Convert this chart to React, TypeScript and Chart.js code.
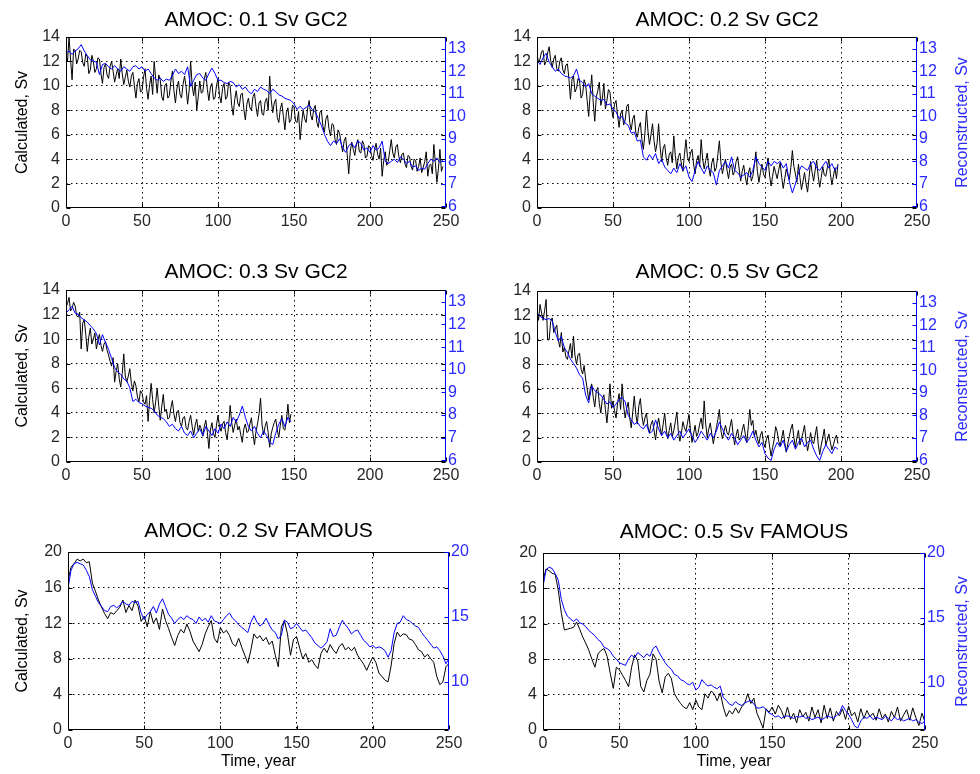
import React, { useEffect, useRef } from "react";
import { Chart, registerables } from "chart.js";

Chart.register(...registerables);

// ---------------- data ----------------
const ANNUAL = 1; // years between samples (annual series)
const BIENNIAL = 2; // years between samples (2-yearly series)

const X_TICKS = [0, 50, 100, 150, 200, 250];
const GC2_LEFT_TICKS = [0, 2, 4, 6, 8, 10, 12, 14];
const GC2_RIGHT_TICKS = [6, 7, 8, 9, 10, 11, 12, 13];
const FAMOUS_LEFT_TICKS = [0, 4, 8, 12, 16, 20];
const FAMOUS_RIGHT_TICKS = [10, 15, 20];

const TITLES = [
  "AMOC: 0.1 Sv GC2",
  "AMOC: 0.2 Sv GC2",
  "AMOC: 0.3 Sv GC2",
  "AMOC: 0.5 Sv GC2",
  "AMOC: 0.2 Sv FAMOUS",
  "AMOC: 0.5 Sv FAMOUS",
];

// annual, years 0..248
const calc01 = [
  12.5, 12.0, 14.0, 12.2, 10.5, 13.0, 12.9, 11.8, 12.2, 12.9,
  12.8, 11.9, 11.6, 12.6, 12.4, 11.0, 11.3, 12.5, 12.0, 11.1,
  11.4, 12.3, 12.2, 11.0, 10.2, 11.5, 11.8, 10.9, 10.6, 11.6,
  12.0, 11.2, 10.3, 10.9, 11.4, 10.6, 12.2, 11.0, 10.1, 10.7,
  11.3, 10.4, 9.9, 10.8, 11.1, 10.0, 9.0, 10.2, 10.6, 9.5,
  9.6, 10.7, 11.4, 9.8, 8.9, 10.1, 10.8, 9.3, 12.0, 10.6,
  9.4, 10.9, 10.5, 9.1, 8.8, 10.0, 10.2, 9.0, 9.2, 10.4,
  11.2, 9.6, 8.6, 9.8, 10.4, 9.3, 9.0, 10.1, 10.8, 9.9,
  8.5, 9.6, 12.0, 10.0, 9.2, 10.3, 8.0, 9.1, 10.4, 9.4,
  9.5, 10.6, 11.1, 9.7, 8.8, 9.9, 10.2, 8.9, 9.0, 10.0,
  10.6, 9.2, 8.6, 9.8, 10.2, 8.9, 9.1, 10.3, 10.0, 8.4,
  7.6, 8.9, 9.6, 8.6, 8.3, 9.3, 9.4, 8.1, 7.2, 8.5,
  9.0, 8.2, 8.0, 9.1, 9.4, 8.3, 7.5, 8.6, 8.8, 7.7,
  7.6, 8.7, 9.0, 8.0, 10.8, 8.9, 7.8, 8.6, 8.9, 7.4,
  7.0, 8.1, 8.6, 7.5, 6.4, 7.8, 8.2, 7.0, 7.2, 8.4,
  8.3, 7.1, 7.0, 7.9, 5.6, 6.9, 8.0, 7.3, 7.0, 8.2,
  8.8, 7.6, 7.2, 8.1, 8.4, 7.0, 6.6, 7.8, 8.0, 6.7,
  6.2, 7.3, 7.6, 6.5, 5.9, 6.9, 6.8, 5.6, 5.2, 6.4,
  6.1, 5.3, 4.6, 5.5, 5.8, 4.4, 2.8, 4.6, 5.4, 4.8,
  4.3, 5.2, 5.6, 4.6, 4.5, 5.5, 5.2, 4.1, 4.2, 5.1,
  5.0, 4.3, 3.9, 4.8, 5.3, 4.4, 4.0, 4.9, 2.6, 3.9,
  4.6, 3.5, 3.8, 4.7, 5.6, 4.5, 4.1, 5.0, 5.2, 4.2,
  3.7, 4.4, 4.5, 3.6, 3.3, 4.3, 4.2, 3.4, 3.1, 4.0,
  3.9, 3.0, 3.4, 4.1, 2.9, 3.3, 3.8, 4.6, 2.6, 3.5,
  3.6, 2.8, 5.2, 3.7, 2.1, 3.2, 4.8, 3.0, 3.4,
];
// 2-yearly, years 0..248
const recon01 = [
  12.8, 12.9, 12.75, 12.9, 13.0, 13.18, 12.9, 12.7, 12.5, 12.45, 12.4,
  11.85, 12.3, 12.35, 12.2, 12.1, 12.25, 12.1, 12.0, 12.2, 12.1,
  12.0, 12.2, 12.25, 12.1, 12.2, 12.0, 12.1, 11.9, 11.7, 11.6,
  11.7, 11.55, 11.65, 11.6, 11.8, 12.1, 11.9, 12.0, 11.85, 12.2,
  11.33, 11.6, 11.85, 11.9, 11.7, 11.6, 11.9, 12.14, 11.9, 11.6,
  11.6, 11.5, 11.45, 11.55, 11.5, 11.3, 11.4, 11.2, 11.3, 11.1,
  11.0, 11.2, 11.1, 11.3, 11.2, 11.15, 11.0, 11.2, 11.1, 10.95,
  10.9, 10.8, 10.75, 10.7, 10.55, 10.3, 10.45, 10.3, 10.4, 10.5,
  10.3, 10.2, 9.9, 9.6, 9.2, 8.9, 8.7, 8.9, 8.8, 9.0,
  8.6, 8.4, 8.7, 8.8, 8.6, 8.9, 8.8, 8.5, 8.6, 8.4,
  8.7, 8.5, 8.6, 8.9, 8.0, 7.9, 8.0, 8.1, 7.95, 8.2,
  8.1, 7.9, 8.0, 7.75, 7.8, 7.6, 7.7, 7.65, 7.9, 8.1,
  8.0, 8.15, 7.95, 8.05,
];

// annual, years 0..198
const calc02 = [
  12.6, 11.9, 12.2, 12.8, 12.9, 11.7, 12.0, 12.7, 13.2, 12.1,
  11.5, 12.2, 12.5, 11.4, 11.2, 12.0, 12.3, 11.3, 11.0, 11.7,
  11.8, 10.6, 8.9, 10.5, 10.8, 9.5, 9.8, 10.6, 10.4, 9.0,
  9.3, 10.5, 10.1, 8.8, 7.5, 9.4, 10.9, 8.6, 7.1, 9.1,
  9.6, 10.3, 8.4, 9.0, 10.2, 8.1, 8.8, 9.7, 9.5, 8.2,
  7.4, 8.5, 8.8, 7.6, 6.6, 7.7, 8.0, 6.8, 7.2, 8.3,
  8.5, 7.0, 6.4, 7.3, 7.6, 6.2, 5.8, 6.6, 7.0, 5.6,
  4.8, 6.1, 8.0, 6.3, 5.2, 6.0, 6.9, 5.5, 4.6, 5.3,
  6.9, 5.0, 3.8, 4.9, 5.2, 4.1, 3.5, 4.4, 4.6, 3.7,
  5.9, 4.3, 3.2, 4.2, 4.5, 3.6, 3.0, 4.4, 5.6, 4.2,
  3.8, 4.5, 4.8, 3.6, 2.8, 3.9, 4.3, 3.4, 5.6, 4.0,
  3.2, 3.9, 4.5, 3.3, 2.6, 3.7, 4.1, 3.0, 3.3, 4.4,
  5.5, 3.7, 2.8, 3.5, 4.0, 3.1, 2.4, 3.3, 3.6, 2.7,
  3.0, 3.8, 4.2, 3.2, 2.2, 3.0, 3.5, 2.6, 1.9, 2.8,
  3.3, 2.2, 2.6, 3.5, 4.6, 3.0, 2.1, 2.9, 3.6, 2.8,
  2.5, 3.3, 4.1, 2.7, 1.8, 2.6, 3.4, 2.9, 2.4, 3.1,
  3.7, 2.5, 1.6, 2.4, 3.2, 2.7, 2.3, 3.3, 4.7, 3.4,
  2.8, 2.1, 3.6, 2.5, 1.5, 2.2, 2.9, 2.0, 1.3, 2.5,
  3.8, 2.9, 2.2, 3.1, 3.9, 2.6, 1.7, 2.5, 3.4, 2.7,
  2.6, 3.3, 4.0, 2.8, 1.9, 2.6, 3.3, 2.4, 3.6,
];
// 2-yearly, years 0..198
const recon02 = [
  12.5, 12.3, 12.6, 12.8, 12.4, 12.2, 12.0, 12.1, 11.9, 11.8,
  11.75, 11.7, 11.8, 12.1, 11.6, 11.5, 11.3, 11.45, 11.0, 10.9,
  10.8, 10.7, 10.75, 10.5, 10.55, 10.3, 10.2, 9.9, 10.0, 9.7,
  9.6, 9.25, 9.3, 8.9, 8.95, 8.2, 8.05, 8.3, 8.1, 8.35,
  7.9, 8.1, 7.75, 7.6, 7.45, 7.7, 7.5, 7.9, 7.6, 7.8,
  7.3, 7.1, 7.6, 8.0, 7.7, 7.45, 7.8, 7.6, 7.5, 6.95,
  7.6, 7.8, 8.0, 7.7, 8.2, 7.6, 7.5, 7.3, 7.4, 7.5,
  7.3, 7.6, 8.2, 7.9, 7.75, 7.6, 8.0, 7.8, 8.0, 7.9,
  8.0, 7.7, 7.9, 7.1, 6.6, 7.0, 7.5, 7.8, 7.7, 7.6,
  7.9, 8.0, 7.7, 7.6, 7.8, 8.0, 7.7, 7.9, 7.6, 7.8,
];

// annual, years 0..148
const calc03 = [
  12.6, 12.9, 13.4, 12.3, 12.5, 13.0, 12.7, 11.9, 11.8, 12.2,
  9.2, 11.3, 11.6, 10.4, 9.0, 10.2, 10.9, 9.6, 10.0, 10.5,
  9.2, 9.9, 10.4, 9.5, 9.0, 9.6, 9.8, 9.1, 8.7, 8.2,
  7.8, 8.5, 6.5, 7.4, 8.0, 6.8, 6.1, 7.2, 8.8, 7.0,
  6.5, 7.0, 7.6, 6.4, 5.8, 6.6, 6.2, 5.3, 4.9, 5.8,
  5.6, 4.9, 4.7, 5.4, 3.3, 5.0, 6.4, 5.1, 4.0, 4.9,
  6.0, 4.6, 3.4, 4.5, 5.5, 4.1, 4.3, 3.5, 3.6, 4.4,
  5.0, 3.9, 3.3, 4.1, 4.2, 3.2, 2.9, 3.6, 3.7, 2.8,
  2.6, 3.3, 3.8, 2.9, 2.2, 3.0, 3.5, 2.5, 3.0, 2.7,
  2.1, 2.9, 3.4, 2.4, 1.1, 2.6, 3.2, 2.3, 2.0, 3.0,
  3.8, 2.9, 2.5, 3.1, 3.3, 2.4, 1.8, 3.0, 4.6, 3.2,
  2.4, 3.0, 3.5, 2.6, 2.9, 2.2, 1.6, 2.7, 3.1, 2.4,
  2.5, 3.1, 3.6, 2.3, 1.4, 2.5, 3.1, 3.9, 5.2, 3.0,
  2.2, 2.9, 3.3, 2.4, 1.2, 2.3, 2.8, 3.2, 3.5, 2.6,
  2.0, 3.0, 3.8, 2.7, 2.6, 3.4, 4.7, 3.2, 3.9,
];
// 2-yearly, years 0..148
const recon03 = [
  12.5, 12.65, 12.8, 12.5, 12.45, 12.3, 12.2, 12.1, 11.95, 11.8,
  11.6, 11.1, 11.55, 11.2, 10.9, 10.5, 10.1, 9.9, 9.8, 9.6,
  9.5, 9.2, 8.6, 8.7, 8.55, 8.5, 8.4, 8.35, 8.3, 8.2,
  8.0, 7.9, 7.85, 7.7, 7.5, 7.6, 7.4, 7.3, 7.5, 7.2,
  7.1, 7.3, 7.0, 7.2, 7.4, 7.1, 7.5, 7.3, 7.1, 7.4,
  7.2, 7.6, 7.4, 7.7, 7.5, 7.9, 7.7, 8.0, 8.4, 7.9,
  7.5, 7.3, 7.5, 7.2, 7.0, 7.3, 7.1, 6.8, 6.7, 7.2,
  7.6, 7.85, 7.5, 7.9, 7.7,
];

// annual, years 0..198
const calc05 = [
  12.5, 11.6, 12.9, 12.2, 11.6, 12.4, 13.3, 10.0, 10.0, 11.5,
  11.8, 10.6, 10.9, 11.2, 10.0, 9.4, 10.6, 9.0, 9.4, 8.6,
  8.4, 9.1, 9.7, 8.5, 10.3, 8.7, 8.0, 8.8, 8.9, 7.6,
  7.2, 7.9, 6.8, 6.0, 5.1, 6.0, 6.4, 5.3, 4.5, 5.8,
  6.1, 4.8, 4.0, 5.2, 5.5, 4.3, 3.2, 4.6, 6.4, 4.4,
  5.0, 4.2, 3.6, 4.8, 5.6, 4.3, 6.4, 4.6, 3.6, 4.4,
  4.9, 3.6, 2.8, 4.1, 5.4, 3.9, 3.1, 4.6, 5.2, 3.8,
  3.0, 3.6, 4.0, 2.9, 2.4, 3.1, 3.4, 2.6, 1.8, 2.9,
  3.6, 2.8, 2.2, 3.1, 4.0, 2.7, 1.9, 2.6, 3.2, 2.1,
  2.6, 3.3, 4.1, 2.5, 1.7, 2.4, 3.3, 2.8, 2.5, 3.2,
  3.9, 2.6, 1.6, 2.3, 3.0, 2.1, 2.4, 3.1, 3.6, 2.7,
  5.0, 3.1, 2.0, 2.7, 3.2, 2.3, 1.5, 2.2, 2.8, 3.5,
  4.3, 2.6, 1.9, 2.5, 3.0, 2.4, 2.2, 2.9, 3.5, 2.3,
  1.4, 2.2, 2.7, 1.8, 2.0, 2.6, 3.1, 2.3, 1.6, 2.9,
  4.3, 3.0, 3.4, 2.1, 2.6, 1.9, 1.5, 2.2, 2.5, 1.6,
  1.2, 1.9, 2.2, 1.3, 0.5, 1.2, 1.8, 2.9, 2.5, 1.7,
  1.3, 2.0, 2.6, 1.6, 0.8, 1.5, 2.1, 2.7, 3.1, 2.0,
  1.2, 2.0, 2.6, 1.4, 1.9, 2.4, 3.0, 1.8, 0.9, 1.6,
  2.4, 1.7, 1.5, 2.2, 2.9, 1.5, 0.6, 1.4, 2.0, 2.7,
  1.4, 1.8, 2.3, 1.6, 1.0, 1.4, 1.9, 2.2, 1.5,
];
// 2-yearly, years 0..198
const recon05 = [
  12.55, 12.4, 12.3, 12.25, 12.3, 12.2, 11.7, 11.3, 11.5, 11.0,
  10.8, 10.5, 10.3, 10.1, 9.8, 9.65, 8.9, 8.55, 9.3, 9.1,
  9.0, 8.9, 8.7, 8.5, 8.6, 8.35, 8.5, 8.7, 8.8, 8.6,
  8.0, 7.8, 7.6, 7.7, 7.5, 7.4, 7.6, 7.2, 7.3, 7.8,
  7.4, 7.1, 7.3, 7.0, 7.2, 6.9, 7.1, 7.3, 7.0, 7.2,
  7.4, 7.1, 6.8, 7.0, 7.3, 7.1, 6.9, 7.2, 7.0, 7.3,
  7.7, 7.4, 7.1, 6.9, 7.2, 7.0, 6.7, 6.9, 7.1, 6.8,
  7.0, 7.3, 6.9, 6.6, 6.8, 6.3, 6.1, 6.0, 6.5, 6.8,
  6.6, 6.9, 6.4, 6.7, 6.9, 6.5, 6.8, 7.0, 6.6, 6.8,
  6.9, 6.5, 6.2, 6.0, 6.4, 6.7, 6.5, 6.3, 6.6, 6.5,
];

// 2-yearly, years 0..250
const calcF02 = [
  16.8, 18.3, 18.7, 19.2, 19.0, 19.2, 18.8, 18.9, 16.5, 15.6,
  14.6, 13.8, 13.1, 12.5, 13.2, 13.0, 13.4, 13.8, 14.6, 13.2,
  14.0, 13.4, 14.6, 13.9, 12.2, 12.8, 11.6, 13.3, 12.0, 12.6,
  11.3, 13.6, 12.3, 11.4, 10.4, 9.5, 10.6, 11.3, 10.9, 11.9,
  11.1, 10.0, 9.4, 8.8, 9.6, 10.8, 11.6, 12.3, 10.3, 9.8,
  11.5, 10.9, 11.2, 10.6, 9.7, 9.4, 10.3, 9.3, 8.4, 7.5,
  9.0, 10.8, 10.3, 10.6, 10.0, 10.4, 9.6, 10.0, 8.4, 7.1,
  11.6, 12.3, 10.8, 8.4, 10.2, 10.5, 9.2, 8.0, 8.6, 7.6,
  7.9, 7.3, 6.9, 8.6, 9.2, 8.7, 9.6, 9.0, 8.6, 9.4,
  9.7, 9.0, 9.3, 8.9, 9.3, 8.4, 7.9, 7.4, 6.7, 7.5,
  8.2, 7.6, 6.4, 6.0, 5.6, 5.4, 7.2, 9.7, 11.0, 10.5,
  10.8, 10.7, 10.2, 10.1, 9.6, 9.0, 8.8, 8.2, 8.5, 8.0,
  7.6, 6.0, 5.1, 5.4, 7.1, 7.5,
];
const reconF02 = [
  17.2, 18.6, 19.1, 19.2, 19.1, 19.0, 18.6, 18.1, 17.1, 16.6,
  16.1, 15.8, 15.5, 15.4, 15.8, 15.9, 15.7, 15.9, 16.2, 16.0,
  15.9, 16.2, 16.1, 16.2, 15.3, 14.8, 15.2, 15.4, 15.8, 15.3,
  16.0, 16.4, 15.8, 15.2, 14.9, 14.5, 14.8, 15.0, 14.8, 15.1,
  14.9, 14.8, 14.5, 15.0, 14.7, 14.9, 14.6, 15.1, 14.7, 14.6,
  14.5, 14.8, 15.1, 15.3, 14.9, 14.7, 14.4, 14.2, 14.0, 13.8,
  14.6, 15.1, 14.6, 14.3, 14.5, 14.9, 14.4, 14.0, 13.8, 13.3,
  13.6, 14.75, 14.6, 14.1, 14.2, 14.5, 14.2, 13.9, 14.0, 13.7,
  13.4, 13.0, 12.8, 12.6, 12.8, 13.1, 14.1, 13.5, 13.6, 14.2,
  14.75, 14.4, 14.1, 13.7, 13.9, 14.0, 13.6, 13.2, 13.0, 12.7,
  12.8, 12.6, 12.7, 12.6, 12.4, 11.9, 12.4, 13.8, 14.5, 14.6,
  15.1, 14.8, 14.7, 14.5, 14.3, 14.2, 13.8, 13.5, 13.2, 12.9,
  12.6, 12.7, 12.4, 12.0, 11.4, 11.8,
];

// 2-yearly, years 0..250
const calcF05 = [
  16.9, 18.2, 18.0, 17.7, 17.6, 15.8, 13.2, 11.3, 11.4, 11.5,
  11.6, 12.2, 11.4, 10.5, 9.8, 9.0, 8.0, 7.1, 8.6, 9.0,
  9.2, 8.3, 6.4, 4.7, 7.1, 6.8, 6.2, 5.6, 4.9, 7.1,
  8.5, 7.8, 4.9, 4.3, 5.6, 6.3, 8.6, 8.0, 5.5, 4.2,
  6.0, 6.4, 5.8, 4.1, 3.5, 3.0, 2.6, 2.4, 3.1, 2.3,
  3.4, 2.6, 2.3, 4.1, 3.6, 4.4, 4.1, 3.3, 4.2, 2.6,
  1.5, 2.2, 1.8, 2.5, 1.9, 2.6, 3.0, 4.1, 3.0, 3.6,
  1.9, 1.1, 0.2, 2.4, 2.0, 2.6, 1.8, 2.8, 2.2, 1.3,
  2.6, 1.2, 1.9, 0.8, 2.3, 1.5, 2.0, 1.0, 2.6, 1.4,
  2.3, 0.8, 2.8, 1.3, 2.5, 1.0, 2.1, 1.6, 2.4, 1.2,
  2.7, 1.6, 2.0, 0.9, 2.4, 1.3, 2.2, 1.5, 1.9, 1.1,
  2.4, 1.3, 1.8, 0.9, 2.1, 1.4, 2.6, 1.0, 1.7, 2.3,
  1.1, 2.5, 1.4, 0.5, 1.9, 0.9,
];
const reconF05 = [
  17.4, 18.7, 18.9, 18.8, 18.4, 17.9, 16.4, 15.6, 15.1, 14.9,
  14.7, 14.9, 14.6, 14.5, 14.3, 14.0, 13.8, 13.6, 13.3, 13.1,
  12.7, 12.6, 12.4, 12.0, 11.8, 11.5, 11.4, 11.3, 11.8, 12.1,
  11.9, 12.3, 12.1, 11.9, 12.2, 12.0, 12.6, 12.8, 12.3, 11.9,
  11.5, 11.2, 11.0, 10.6, 10.5, 10.2, 10.1, 9.9, 9.8, 10.0,
  9.4, 9.6, 10.2, 9.9, 9.7, 9.8, 9.6, 9.5, 9.7, 8.8,
  8.6, 8.3, 8.2, 8.5, 8.3, 8.2, 8.4, 8.5, 8.6, 8.3,
  8.0, 8.0, 8.1, 7.9, 7.6, 7.5, 7.3, 7.4, 7.2, 7.35,
  7.4, 7.3, 7.2, 7.35, 7.3, 7.4, 7.2, 7.3, 7.1, 7.2,
  7.3, 7.1, 7.2, 7.4, 7.3, 7.2, 7.4, 7.6, 8.2, 7.8,
  7.5, 7.1, 6.6, 6.45, 7.0, 7.3, 7.2, 7.4, 7.1, 7.3,
  7.2, 7.1, 7.35, 7.2, 7.0, 7.3, 7.1, 7.2, 7.0, 7.1,
  7.2, 7.0, 7.1, 6.9, 6.8, 7.0,
];

// ---------------- panel definitions ----------------
type Spec = {
  title: string;
  calc: number[];
  calcStep: number;
  recon: number[];
  reconStep: number;
  leftMax: number;
  leftTicks: number[];
  rightMin: number;
  rightMax: number;
  rightTicks: number[];
  leftLabel: boolean;
  rightLabel: boolean;
  xLabel: boolean;
};

const GC2_R_MIN = 5.93;
const GC2_R_MAX = 13.52;
const FAM_R_MIN = 6.3;
const FAM_R_MAX = 20;

const gc2 = { leftMax: 14, leftTicks: GC2_LEFT_TICKS, rightMin: GC2_R_MIN, rightMax: GC2_R_MAX, rightTicks: GC2_RIGHT_TICKS, calcStep: ANNUAL, reconStep: BIENNIAL, xLabel: false };
const famous = { leftMax: 20, leftTicks: FAMOUS_LEFT_TICKS, rightMin: FAM_R_MIN, rightMax: FAM_R_MAX, rightTicks: FAMOUS_RIGHT_TICKS, calcStep: BIENNIAL, reconStep: BIENNIAL, xLabel: true };

const PANELS: Spec[] = [
  { ...gc2, title: TITLES[0], calc: calc01, recon: recon01, leftLabel: true, rightLabel: false },
  { ...gc2, title: TITLES[1], calc: calc02, recon: recon02, leftLabel: false, rightLabel: true },
  { ...gc2, title: TITLES[2], calc: calc03, recon: recon03, leftLabel: true, rightLabel: false },
  { ...gc2, title: TITLES[3], calc: calc05, recon: recon05, leftLabel: false, rightLabel: true },
  { ...famous, title: TITLES[4], calc: calcF02, recon: reconF02, leftLabel: true, rightLabel: false },
  { ...famous, title: TITLES[5], calc: calcF05, recon: reconF05, leftLabel: false, rightLabel: true },
];

// ---------------- layout (page pixels) ----------------
const LAYOUT = [
  { canvas: { x: 0, y: 0, w: 490, h: 236 }, plot: { l: 66, t: 37, r: 446, b: 208 }, titleY: 20 },
  { canvas: { x: 490, y: 0, w: 490, h: 236 }, plot: { l: 537, t: 37, r: 917, b: 208 }, titleY: 20 },
  { canvas: { x: 0, y: 248, w: 490, h: 244 }, plot: { l: 66, t: 290, r: 446, b: 462 }, titleY: 272 },
  { canvas: { x: 490, y: 248, w: 490, h: 244 }, plot: { l: 537, t: 291, r: 917, b: 462 }, titleY: 272 },
  { canvas: { x: 0, y: 504, w: 490, h: 270 }, plot: { l: 68, t: 552, r: 449, b: 730 }, titleY: 531 },
  { canvas: { x: 490, y: 504, w: 490, h: 270 }, plot: { l: 543, t: 553, r: 925, b: 730 }, titleY: 532 },
];
const LEFT_LABEL_X = 23;
const RIGHT_LABEL_X = 963;
const X_LABEL_Y = 762;

const FONT = "'Liberation Sans', Arial, Helvetica, sans-serif";
const BLUE = "#0000ff";
const BLUE_TEXT = "#2a2aff";
const TICK_TEXT = "#262626";
const TITLE_SIZE = 21;
const LABEL_SIZE = 16;
const TICK_SIZE = 16;
const TICK_LEN = 4;

const toPoints = (arr: number[], step: number) => arr.map((v, i) => ({ x: i * step, y: v }));
const px = (v: number) => Math.round(v) + 0.5;

const framePlugin = {
  id: "matlabFrame",
  afterDatasetsDraw(chart: any, _args: any, opts: any) {
    const { ctx, chartArea: a, scales } = chart;
    const L = px(a.left), R = px(a.right - 1), T = px(a.top), B = px(a.bottom - 1);
    ctx.save();
    ctx.lineWidth = 1;
    ctx.setLineDash([]);
    ctx.strokeStyle = "#000";
    ctx.beginPath();
    for (const t of scales.x.ticks) {
      const x = px(scales.x.getPixelForValue(t.value));
      ctx.moveTo(x, B);
      ctx.lineTo(x, B - TICK_LEN);
      ctx.moveTo(x, T);
      ctx.lineTo(x, T + TICK_LEN);
    }
    for (const t of scales.y.ticks) {
      const y = px(scales.y.getPixelForValue(t.value));
      ctx.moveTo(L, y);
      ctx.lineTo(L + TICK_LEN, y);
      ctx.moveTo(R, y);
      ctx.lineTo(R - TICK_LEN, y);
    }
    ctx.moveTo(R, T);
    ctx.lineTo(L, T);
    ctx.lineTo(L, B);
    ctx.lineTo(R, B);
    ctx.stroke();

    ctx.strokeStyle = BLUE;
    ctx.beginPath();
    ctx.moveTo(R, T - 0.5);
    ctx.lineTo(R, B + 0.5);
    for (const t of scales.y2.ticks) {
      const y = px(scales.y2.getPixelForValue(t.value));
      ctx.moveTo(R, y);
      ctx.lineTo(R - TICK_LEN, y);
    }
    ctx.stroke();

    if (opts && opts.rightText) {
      ctx.fillStyle = BLUE_TEXT;
      ctx.font = `${LABEL_SIZE}px ${FONT}`;
      ctx.textAlign = "center";
      ctx.textBaseline = "middle";
      ctx.translate(opts.rightX, (a.top + a.bottom) / 2);
      ctx.rotate(-Math.PI / 2);
      ctx.fillText(opts.rightText, 0, 0);
    }
    ctx.restore();
  },
};

function Panel({ spec, lay }: { spec: Spec; lay: (typeof LAYOUT)[number] }) {
  const ref = useRef<HTMLCanvasElement>(null);
  const { canvas: c, plot: p } = lay;

  useEffect(() => {
    if (!ref.current) return;
    const titleLH = TITLE_SIZE * 1.2;
    const labelLH = LABEL_SIZE * 1.2;
    const leftW = p.l - c.x;
    const rightW = c.x + c.w - p.r;
    const bottomH = c.y + c.h - p.b;

    const gridColor = (ctx: any) => {
      const v = ctx.tick ? ctx.tick.value : 0;
      const s = ctx.scale;
      return v > s.min && v < s.max ? "#000" : "rgba(0,0,0,0)";
    };

    const chart = new Chart(ref.current, {
      type: "line",
      data: {
        datasets: [
          {
            label: "Reconstructed",
            data: toPoints(spec.recon, spec.reconStep),
            yAxisID: "y2",
            xAxisID: "x",
            borderColor: BLUE,
            borderWidth: 1,
            pointRadius: 0,
            tension: 0,
            fill: false,
          },
          {
            label: "Calculated",
            data: toPoints(spec.calc, spec.calcStep),
            yAxisID: "y",
            xAxisID: "x",
            borderColor: "#000",
            borderWidth: 1,
            pointRadius: 0,
            tension: 0,
            fill: false,
          },
        ],
      },
      options: {
        animation: false,
        responsive: false,
        maintainAspectRatio: false,
        events: [],
        layout: { padding: 0 },
        plugins: {
          legend: { display: false },
          tooltip: { enabled: false },
          title: {
            display: true,
            text: spec.title,
            fullSize: false,
            color: "#000",
            font: { family: FONT, size: TITLE_SIZE, weight: "normal", lineHeight: 1.2 },
            padding: {
              top: lay.titleY - c.y - titleLH / 2,
              bottom: p.t - lay.titleY - titleLH / 2,
            },
          },
          matlabFrame: {
            rightText: spec.rightLabel ? "Reconstructed, Sv" : null,
            rightX: RIGHT_LABEL_X - c.x,
          },
        } as any,
        scales: {
          x: {
            type: "linear",
            position: "bottom",
            min: 0,
            max: 250,
            afterBuildTicks: (s: any) => {
              s.ticks = X_TICKS.map((v) => ({ value: v }));
            },
            afterFit: (s: any) => {
              s.height = bottomH;
            },
            grid: { color: gridColor, lineWidth: 1, drawTicks: false },
            border: { display: false, dash: [1.5, 3.5] },
            ticks: {
              color: TICK_TEXT,
              font: { family: FONT, size: TICK_SIZE },
              padding: 4,
              maxRotation: 0,
              autoSkip: false,
            },
            title: {
              display: spec.xLabel,
              text: "Time, year",
              color: "#000",
              font: { family: FONT, size: LABEL_SIZE, lineHeight: 1.2 },
              padding: { top: 0, bottom: c.y + c.h - X_LABEL_Y - labelLH / 2 },
            },
          },
          y: {
            type: "linear",
            position: "left",
            min: 0,
            max: spec.leftMax,
            afterBuildTicks: (s: any) => {
              s.ticks = spec.leftTicks.map((v) => ({ value: v }));
            },
            afterFit: (s: any) => {
              s.width = leftW;
            },
            grid: { color: gridColor, lineWidth: 1, drawTicks: false },
            border: { display: false, dash: [1.5, 3.5] },
            ticks: {
              color: TICK_TEXT,
              font: { family: FONT, size: TICK_SIZE },
              padding: 6,
            },
            title: {
              display: spec.leftLabel,
              text: "Calculated, Sv",
              color: "#000",
              font: { family: FONT, size: LABEL_SIZE, lineHeight: 1.2 },
              padding: { top: LEFT_LABEL_X - c.x - labelLH / 2, bottom: 0 },
            },
          },
          y2: {
            type: "linear",
            position: "right",
            min: spec.rightMin,
            max: spec.rightMax,
            afterBuildTicks: (s: any) => {
              s.ticks = spec.rightTicks.map((v) => ({ value: v }));
            },
            afterFit: (s: any) => {
              s.width = rightW;
            },
            grid: { display: false, drawTicks: false },
            border: { display: false },
            ticks: {
              color: BLUE_TEXT,
              font: { family: FONT, size: TICK_SIZE },
              padding: 2,
            },
          },
        },
      } as any,
      plugins: [framePlugin as any],
    });
    return () => chart.destroy();
  }, []);

  return (
    <canvas
      ref={ref}
      width={c.w}
      height={c.h}
      style={{ position: "absolute", left: c.x, top: c.y, width: c.w, height: c.h }}
    />
  );
}

export default function App() {
  return (
    <div
      style={{
        position: "absolute",
        left: 0,
        top: 0,
        width: 980,
        height: 774,
        background: "#fff",
        overflow: "hidden",
      }}
    >
      {PANELS.map((s, i) => (
        <Panel key={i} spec={s} lay={LAYOUT[i]} />
      ))}
    </div>
  );
}
